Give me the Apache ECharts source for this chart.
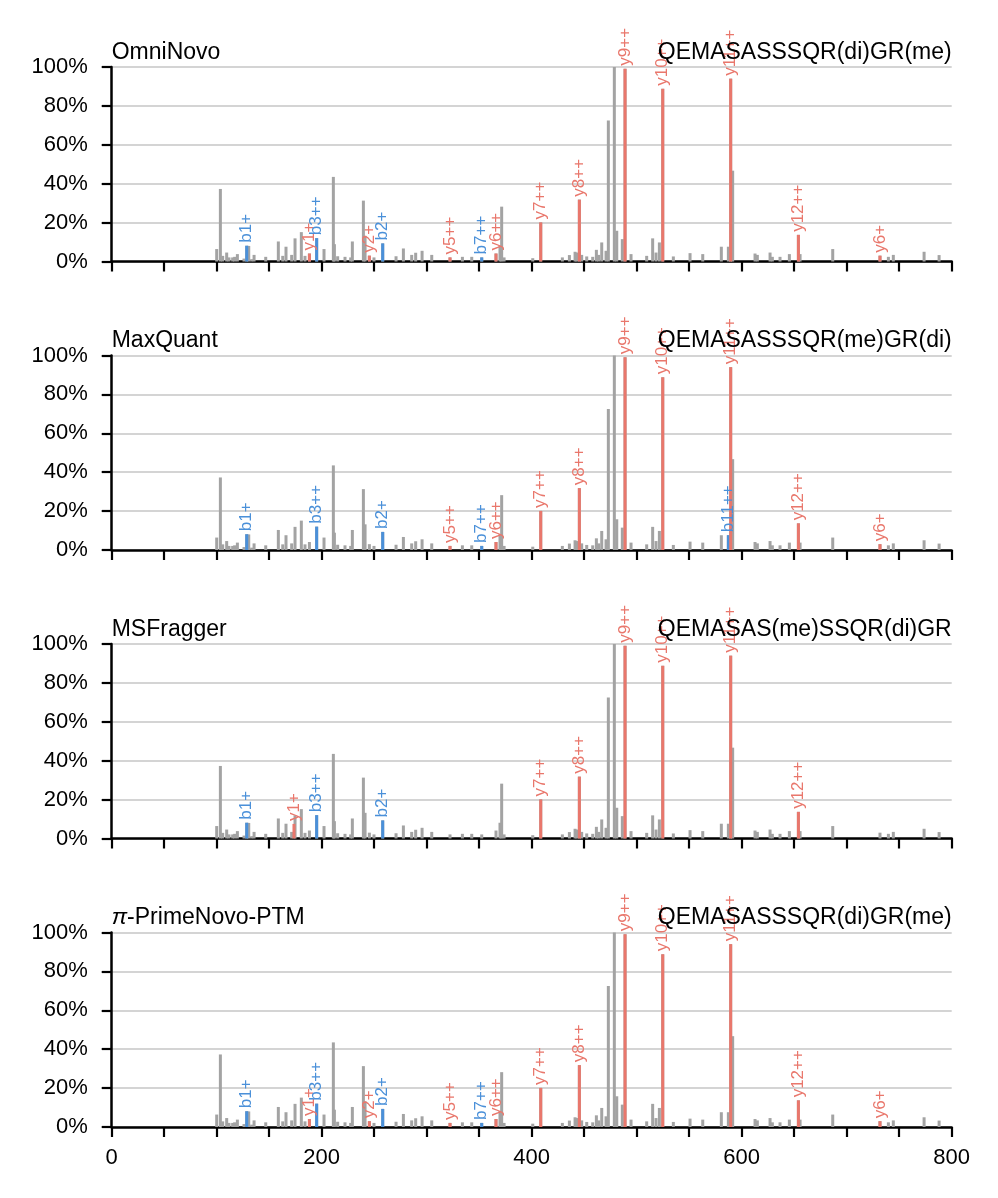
<!DOCTYPE html>
<html>
<head>
<meta charset="utf-8">
<script src="https://cdn.jsdelivr.net/npm/echarts@6/dist/echarts.min.js"></script>
<style>
html,body{margin:0;padding:0;background:#fff;}
#chart{width:998px;height:1198px;}
</style>
</head>
<body>
<div id="chart"></div>
<script>
// ---------- DATA ----------
const panelTitles = ['OmniNovo', 'MaxQuant', 'MSFragger', '{i|π}-PrimeNovo-PTM'];
const panelSequences = ['QEMASASSSQR(di)GR(me)', 'QEMASASSSQR(me)GR(di)', 'QEMASAS(me)SSQR(di)GR', 'QEMASASSSQR(di)GR(me)'];
const xTicks = [0, 200, 400, 600, 800];

// spectrum peaks (m/z, relative intensity %)
const peakMz = [100.0, 103.5, 105.7, 109.5, 111.7, 115.2, 117.1, 119.7, 126.0, 128.6, 130.5, 133.3, 135.6, 146.7,
  158.7, 162.9, 166.0, 171.4, 174.6, 180.6, 184.1, 188.3, 195.2, 202.2, 211.1, 212.1, 215.2, 222.2, 227.6, 229.2,
  239.7, 241.3, 245.4, 249.8, 258.1, 270.8, 277.8, 285.7, 289.5, 295.6, 304.8, 322.2, 334.0, 342.9, 352.4, 366.0,
  369.8, 371.4, 373.7, 401.0, 408.6, 429.2, 435.9, 441.3, 442.9, 445.4, 447.6, 452.4, 458.1, 461.6, 463.8, 466.7,
  470.8, 473.0, 478.7, 481.0, 486.3, 488.9, 494.6, 509.5, 515.2, 518.4, 521.6, 524.8, 534.9, 550.8, 562.9, 580.6,
  587.3, 589.5, 591.4, 612.7, 614.9, 627.0, 629.2, 636.5, 645.4, 654.0, 655.6, 686.7, 731.7, 739.7, 744.4, 773.7, 788.0];
const peakInt = [6.4, 37.3, 2.9, 4.6, 2.1, 2.1, 2.4, 3.8, 1.5, 8.1, 8.0, 1.2, 3.4, 2.4,
  10.3, 2.9, 7.6, 3.4, 11.9, 15.1, 2.9, 4.1, 12.0, 6.4, 43.5, 8.9, 2.7, 2.4, 2.1, 10.3,
  31.3, 13.2, 3.0, 2.1, 9.3, 2.7, 6.7, 3.4, 4.5, 5.5, 3.4, 2.1, 2.4, 2.4, 2.1, 4.1,
  8.1, 28.2, 2.1, 1.7, 20.1, 2.1, 3.3, 5.0, 4.6, 31.8, 3.4, 2.6, 2.4, 6.0, 3.4, 9.8,
  5.5, 72.5, 100, 15.8, 11.5, 99.1, 3.8, 2.9, 11.9, 4.6, 9.8, 88.8, 2.6, 4.3, 3.8, 7.6,
  7.6, 94.0, 46.7, 4.1, 3.4, 4.6, 2.4, 2.4, 3.8, 13.7, 3.8, 6.4, 3.0, 2.4, 3.4, 5.0, 3.3];

// annotated fragment ions per panel: [m/z, intensity %, ion label]
const omniIons = [[128.6, 8.1, 'b1+'], [188.3, 4.1, 'y1+'], [195.2, 12.0, 'b3++'], [245.4, 3.0, 'y2+'],
  [258.1, 9.3, 'b2+'], [322.2, 2.1, 'y5++'], [352.4, 2.1, 'b7++'], [366.0, 4.1, 'y6++'], [408.6, 20.1, 'y7++'],
  [445.4, 31.8, 'y8++'], [488.9, 99.1, 'y9++'], [524.8, 88.8, 'y10++'], [589.5, 94.0, 'y11++'],
  [654.0, 13.7, 'y12++'], [731.7, 3.0, 'y6+']];
const maxquantIons = [[128.6, 8.1, 'b1+'], [195.2, 12.0, 'b3++'], [258.1, 9.3, 'b2+'], [322.2, 2.1, 'y5++'],
  [352.4, 2.1, 'b7++'], [366.0, 4.1, 'y6++'], [408.6, 20.1, 'y7++'], [445.4, 31.8, 'y8++'], [488.9, 99.1, 'y9++'],
  [524.8, 88.8, 'y10++'], [587.3, 7.6, 'b11++'], [589.5, 94.0, 'y11++'], [654.0, 13.7, 'y12++'], [731.7, 3.0, 'y6+']];
const msfraggerIons = [[128.6, 8.1, 'b1+'], [173.6, 7.5, 'y1+'], [195.2, 12.0, 'b3++'], [258.1, 9.3, 'b2+'],
  [408.6, 20.1, 'y7++'], [445.4, 31.8, 'y8++'], [488.9, 99.1, 'y9++'], [524.8, 88.8, 'y10++'],
  [589.5, 94.0, 'y11++'], [654.0, 13.7, 'y12++']];
const primeIons = [[128.6, 8.1, 'b1+'], [188.3, 4.1, 'y1+'], [195.2, 12.0, 'b3++'], [245.4, 3.0, 'y2+'],
  [258.1, 9.3, 'b2+'], [322.2, 2.1, 'y5++'], [352.4, 2.1, 'b7++'], [366.0, 4.1, 'y6++'], [408.6, 20.1, 'y7++'],
  [445.4, 31.8, 'y8++'], [488.9, 99.1, 'y9++'], [524.8, 88.8, 'y10++'], [589.5, 94.0, 'y11++'],
  [654.0, 13.7, 'y12++'], [731.7, 3.0, 'y6+']];
const panelIons = [omniIons, maxquantIons, msfraggerIons, primeIons];

// ---------- STYLE / LAYOUT ----------
const FONT = '"Liberation Sans", Arial, Helvetica, sans-serif';
const GREY = '#a3a3a3', RED = '#e9776c', BLUE = '#4a90d9';
const gridLeft = 111.7, gridRight = 46.3, gridH = 194.5;
const gridTops = [67, 355.5, 644, 932.5];

const grids = [], xAxes = [], yAxes = [], series = [], titles = [];
const greyData = peakMz.map((m, i) => [m, peakInt[i]]);

gridTops.forEach((top, p) => {
  grids.push({left: gridLeft, right: gridRight, top: top, height: gridH, containLabel: false});
  xAxes.push({
    type: 'value', gridIndex: p, min: 0, max: 800, interval: 50,
    axisLine: {show: true, onZero: false, lineStyle: {color: '#000', width: 2.5}},
    axisTick: {show: true, length: 10, lineStyle: {color: '#000', width: 2.2}},
    axisLabel: {show: p === 3, margin: 20, fontSize: 22, color: '#000', fontFamily: FONT,
      formatter: v => xTicks.indexOf(v) >= 0 ? String(v) : ''},
    splitLine: {show: false}
  });
  yAxes.push({
    type: 'value', gridIndex: p, min: 0, max: 100, interval: 20,
    axisLine: {show: true, lineStyle: {color: '#000', width: 2.5}},
    axisTick: {show: true, length: 10, lineStyle: {color: '#000', width: 2.2}},
    axisLabel: {margin: 24, fontSize: 22, color: '#000', fontFamily: FONT, formatter: '{value}%'},
    splitLine: {show: true, lineStyle: {color: '#d4d4d4', width: 2}}
  });
  series.push({
    type: 'bar', xAxisIndex: p, yAxisIndex: p, barWidth: 3, barGap: '-100%',
    itemStyle: {color: GREY}, data: greyData, silent: true, animation: false, z: 2
  });
  series.push({
    type: 'bar', xAxisIndex: p, yAxisIndex: p, barWidth: 3, barGap: '-100%', animation: false, z: 3,
    data: panelIons[p].map(d => {
      const c = d[2][0] === 'b' ? BLUE : RED;
      return {value: [d[0], d[1]], name: d[2], itemStyle: {color: c},
        label: {show: true, color: c}};
    }),
    label: {show: true, position: 'top', rotate: 90, align: 'left', verticalAlign: 'middle',
      distance: 3, fontSize: 17, fontFamily: FONT, formatter: '{b}'},
    labelLayout: {hideOverlap: false}
  });
  titles.push({
    text: panelTitles[p], left: gridLeft, top: top - 26, padding: 0,
    textStyle: {fontSize: 23, fontWeight: 'normal', color: '#000', fontFamily: FONT, lineHeight: 23,
      rich: {i: {fontStyle: 'italic', fontSize: 23, fontFamily: FONT, color: '#000', lineHeight: 23}}}
  });
  titles.push({
    text: panelSequences[p], right: gridRight, top: top - 26, padding: 0, z: 10,
    textStyle: {fontSize: 23, fontWeight: 'normal', color: '#000', fontFamily: FONT, lineHeight: 23}
  });
});

const chart = echarts.init(document.getElementById('chart'), null, {renderer: 'canvas'});
chart.setOption({
  backgroundColor: '#fff',
  animation: false,
  title: titles,
  grid: grids,
  xAxis: xAxes,
  yAxis: yAxes,
  series: series
});
</script>
</body>
</html>
